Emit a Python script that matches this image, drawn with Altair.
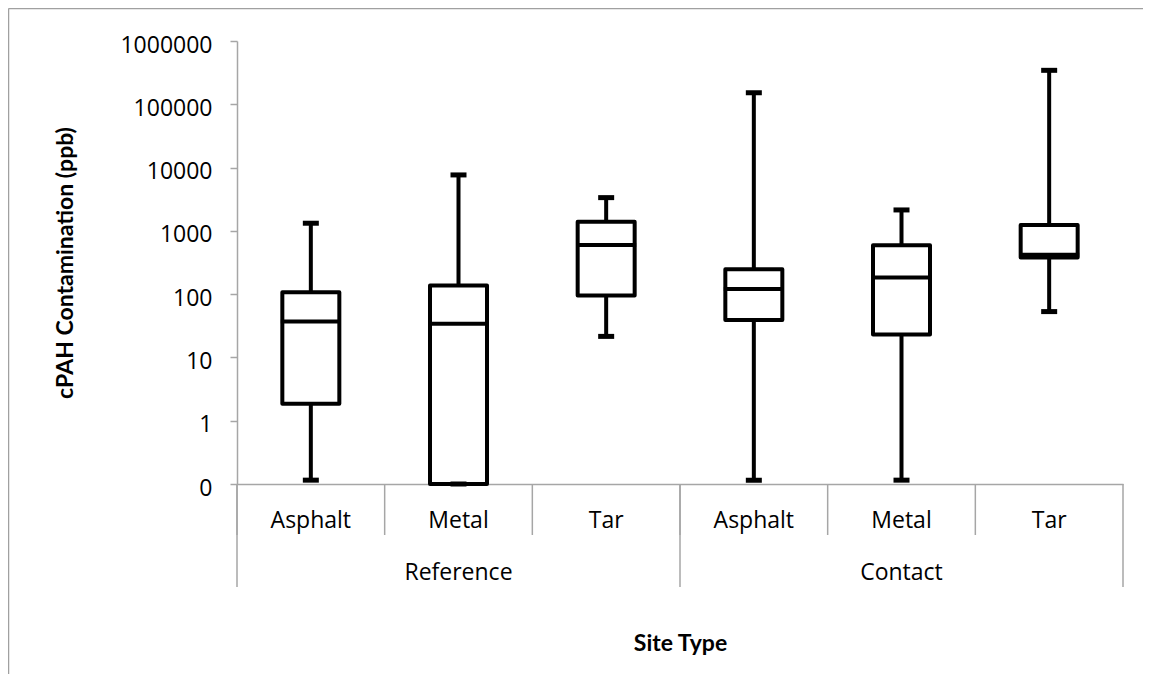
import altair as alt
import pandas as pd

# ---- data ----
groups = ["Reference", "Reference", "Reference", "Contact", "Contact", "Contact"]
cats = ["Asphalt", "Metal", "Tar", "Asphalt", "Metal", "Tar"]
wmin = [0.115, 0.1, 21.5, 0.115, 0.115, 53]
q1 = [1.85, 0.1, 95, 39, 23, 380]
med = [37, 34, 600, 121, 183, 420]
q3 = [107, 137, 1390, 248, 594, 1240]
wmax = [1320, 7650, 3350, 152000, 2140, 344000]
y_ticks = [0.1, 1, 10, 100, 1000, 10000, 100000, 1000000]

keys = [f"{g}|{c}" for g, c in zip(groups, cats)]
df = pd.DataFrame(dict(key=keys, group=groups, cat=cats, wmin=wmin, q1=q1,
                       med=med, q3=q3, wmax=wmax))
df["first_in_group"] = [i == 0 or groups[i] != groups[i - 1] for i in range(len(keys))]
df["last"] = [i == len(keys) - 1 for i in range(len(keys))]
df["mid_in_group"] = [c == "Metal" for c in cats]

W, H = 886, 443
GRAY = "#a6a6a6"
BORDER = "#a0a0a0"

xscale = alt.Scale(domain=keys, paddingInner=0, paddingOuter=0)
xaxis = alt.Axis(labels=False, ticks=False, domainColor=GRAY, domainWidth=1.5,
                 title="Site Type", titleFont="Lato", titleFontWeight="bold",
                 titleFontSize=23, titleColor="black", titleY=159,
                 titleBaseline="middle")
yscale = alt.Scale(type="log", domain=[0.1, 1000000], nice=False)
yaxis = alt.Axis(values=y_ticks,
                 labelExpr="datum.value < 1 ? '0' : format(datum.value, 'd')",
                 grid=False, domainColor=GRAY, domainWidth=1.5, tickColor=GRAY,
                 tickWidth=1.5, tickSize=7, labelPadding=18, labelOffset=4,
                 labelFont="Open Sans", labelFontSize=23, labelColor="black",
                 title="cPAH Contamination (ppb)", titleFont="Lato",
                 titleFontWeight="bold", titleFontSize=23, titleColor="black",
                 titleAngle=270, titleX=-165, titleY=H / 2, titleAlign="center",
                 titleBaseline="alphabetic")

base = alt.Chart(df)
X = alt.X("key:N", scale=xscale, axis=xaxis)

whisk = base.mark_rule(color="black", strokeWidth=4).encode(
    x=X,
    y=alt.Y("wmin:Q", scale=yscale, axis=yaxis),
    y2="wmax:Q")
box = base.mark_bar(fill="white", stroke="black", strokeWidth=4, size=57,
                    strokeJoin="round", opacity=1).encode(x=X, y="q1:Q", y2="q3:Q")
median = base.mark_tick(color="black", size=60, thickness=4, opacity=1).encode(x=X, y="med:Q")
cap_hi = base.mark_tick(color="black", size=16, thickness=5, opacity=1).encode(x=X, y="wmax:Q")
cap_lo = base.mark_tick(color="black", size=16, thickness=5, opacity=1).encode(x=X, y="wmin:Q")

sep_in = base.mark_rule(color=GRAY, strokeWidth=1.5).encode(
    x=alt.X("key:N", bandPosition=0), y=alt.value(H), y2=alt.value(H + 51))
sep_end = base.transform_filter("datum.last").mark_rule(color=GRAY, strokeWidth=1.5).encode(
    x=alt.X("key:N", bandPosition=1), y=alt.value(H), y2=alt.value(H + 103))
sep_grp = base.transform_filter("datum.first_in_group").mark_rule(color=GRAY, strokeWidth=1.5).encode(
    x=alt.X("key:N", bandPosition=0), y=alt.value(H), y2=alt.value(H + 103))

cat_lbl = base.mark_text(font="Open Sans", fontSize=23, color="black",
                         baseline="alphabetic").encode(
    x="key:N", y=alt.value(H + 44), text="cat:N")
grp_lbl = base.transform_filter("datum.mid_in_group").mark_text(
    font="Open Sans", fontSize=23, color="black", baseline="alphabetic").encode(
    x="key:N", y=alt.value(H + 96), text="group:N")

border_left = base.transform_filter("datum.last").mark_rule(color=BORDER, strokeWidth=1.5).encode(
    x=alt.value(-228.5), y=alt.value(-32.5), y2=alt.value(H + 250))
border_top = base.transform_filter("datum.last").mark_rule(color=BORDER, strokeWidth=1.5).encode(
    x=alt.value(-228.5), x2=alt.value(W + 40), y=alt.value(-32.5))

chart = alt.layer(
    border_left, border_top, sep_in, sep_end, sep_grp, cat_lbl, grp_lbl,
    whisk, box, median, cap_hi, cap_lo
).properties(
    width=W, height=H,
    autosize=alt.AutoSizeParams(type="none"),
    padding={"left": 229, "top": 33, "right": 20, "bottom": 190},
).configure_view(stroke=None)

chart.save("out.html", embed_options={"renderer": "svg", "actions": False})
